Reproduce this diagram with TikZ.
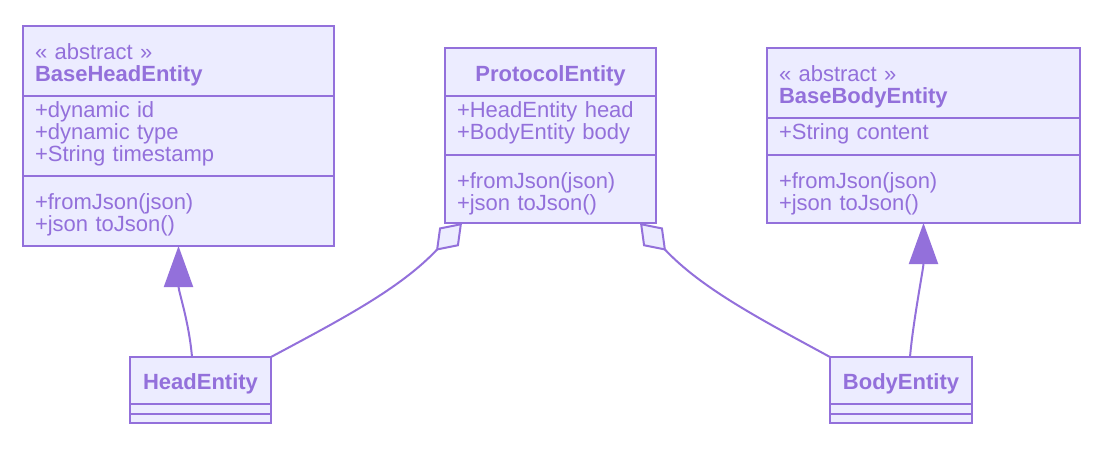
\documentclass[tikz,border=0pt]{standalone}
\usepackage{fontspec}
\setmainfont{Liberation Sans}
\usetikzlibrary{positioning,arrows.meta}
\definecolor{umlline}{HTML}{9370DB}
\definecolor{umlfill}{HTML}{ECECFF}
\tikzset{part/.style={draw=umlline, fill=umlfill, line width=2pt, outer sep=0pt,
inner xsep=12pt, inner ysep=0pt, text=umlline, text width=#1, align=left,
font=\fontsize{22}{22}\selectfont},
drop/.style={execute at begin node={\rule{0pt}{#1}}},
lift/.style={execute at end node={\par\vspace*{#1}}}}
\tikzstyle{link} = [draw=umlline, line width=2pt]
\tikzstyle{inherit} = [link, -{Triangle[length=41pt,width=29pt]}]
\tikzstyle{aggr} = [link, {Diamond[fill=umlfill,length=38pt,width=27pt]}-]
\begin{document}
\begin{tikzpicture}[x=1pt,y=-1pt]
\useasboundingbox (0,0) rectangle (1100,473);

% abstract base classes
\node [part=287pt, drop=24pt, minimum height=70pt, anchor=north west] (bhe-t) at (23,26) {« abstract »\\\textbf{BaseHeadEntity}};
\node [part=287pt, lift=5pt, minimum height=80pt, below=0pt of bhe-t] (bhe-a) {+dynamic id\\+dynamic type\\+String timestamp};
\node [part=287pt, drop=24pt, minimum height=70pt, below=0pt of bhe-a] (bhe-m) {+fromJson(json)\\+json toJson()};

\node [part=289pt, drop=24pt, minimum height=70pt, anchor=north west] (bbe-t) at (767,48) {« abstract »\\\textbf{BaseBodyEntity}};
\node [part=289pt, lift=6pt, minimum height=37pt, below=0pt of bbe-t] (bbe-a) {+String content};
\node [part=289pt, drop=26pt, minimum height=68pt, below=0pt of bbe-a] (bbe-m) {+fromJson(json)\\+json toJson()};

% protocol
\node [part=187pt, drop=24pt, minimum height=48pt, anchor=north west, align=center] (prot-t) at (445,48) {\textbf{ProtocolEntity}};
\node [part=187pt, lift=5pt, minimum height=59pt, below=0pt of prot-t] (prot-a) {+HeadEntity head\\+BodyEntity body};
\node [part=187pt, drop=26pt, minimum height=68pt, below=0pt of prot-a] (prot-m) {+fromJson(json)\\+json toJson()};

% concrete classes
\node [part=133pt, drop=22pt, inner xsep=4pt, minimum height=47pt, anchor=north west, align=center] (he-t) at (130,357) {\textbf{HeadEntity}};
\node [part=133pt, inner xsep=4pt, minimum height=10pt, below=0pt of he-t] (he-a) {};
\node [part=133pt, inner xsep=4pt, minimum height=9pt, below=0pt of he-a] (he-m) {};

\node [part=134pt, drop=22pt, inner xsep=4pt, minimum height=47pt, anchor=north west, align=center] (bod-t) at (830,357) {\textbf{BodyEntity}};
\node [part=134pt, inner xsep=4pt, minimum height=10pt, below=0pt of bod-t] (bod-a) {};
\node [part=134pt, inner xsep=4pt, minimum height=9pt, below=0pt of bod-a] (bod-m) {};

\draw [inherit] ([xshift=-8.5pt]he-t.north) .. controls +(-3,-35) and +(0,45) .. (bhe-m.south);
\draw [inherit] ([xshift=9pt]bod-t.north) .. controls +(3,-35) and +(0,45) .. (bbe-m.south);

\draw [aggr] ([xshift=17pt]prot-m.south west) .. controls +(-62,66) and +(69,-37) .. (he-t.north east);
\draw [aggr] ([xshift=-16pt]prot-m.south east) .. controls +(62,66) and +(-68,-37) .. (bod-t.north west);
\end{tikzpicture}
\end{document}
